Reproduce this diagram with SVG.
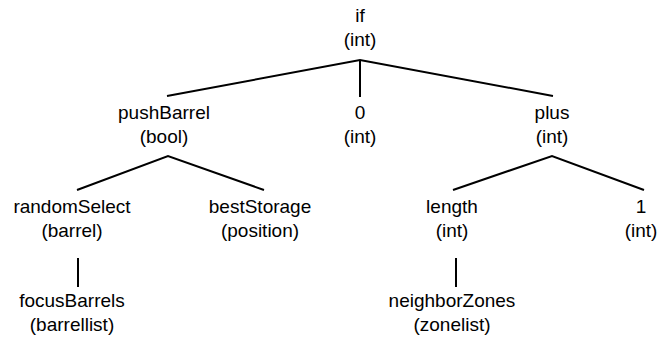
<svg xmlns="http://www.w3.org/2000/svg" width="661" height="340" viewBox="0 0 661 340">
<style>
text{font-family:"Liberation Sans",Arial,sans-serif;font-size:19px;fill:#000;text-anchor:middle}
.e{stroke:#000;stroke-width:2;fill:none}
</style>
<rect width="661" height="340" fill="#fff"/>
<g id="edges">
<path class="e" d="M167,96 L360,60 L553,96 M360,60 L360,97"/>
<path class="e" d="M77,190 L168,156 L264,190"/>
<path class="e" d="M453,190 L552,156 L644,190"/>
<path class="e" d="M78,258 L78,287"/>
<path class="e" d="M456,258 L456,287"/>
</g>
<g id="n-if"><text x="360" y="22">if</text><text x="360" y="46">(int)</text></g>
<g id="n-pushBarrel"><text x="164" y="119">pushBarrel</text><text x="164" y="143">(bool)</text></g>
<g id="n-0"><text x="360" y="119">0</text><text x="360" y="143">(int)</text></g>
<g id="n-plus"><text x="552" y="119">plus</text><text x="552" y="143">(int)</text></g>
<g id="n-randomSelect"><text x="72" y="213">randomSelect</text><text x="72" y="237">(barrel)</text></g>
<g id="n-bestStorage"><text x="260" y="213">bestStorage</text><text x="260" y="237">(position)</text></g>
<g id="n-length"><text x="452" y="213">length</text><text x="452" y="237">(int)</text></g>
<g id="n-1"><text x="641" y="213">1</text><text x="641" y="237">(int)</text></g>
<g id="n-focusBarrels"><text x="72" y="307">focusBarrels</text><text x="72" y="331">(barrellist)</text></g>
<g id="n-neighborZones"><text x="452" y="307">neighborZones</text><text x="452" y="331">(zonelist)</text></g>
</svg>
